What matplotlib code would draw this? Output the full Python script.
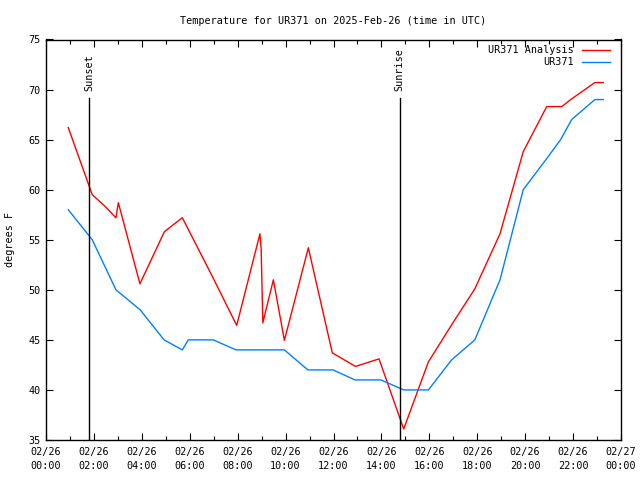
import matplotlib
matplotlib.use("Agg")
import matplotlib.pyplot as plt
from matplotlib.ticker import MultipleLocator

FONT = "DejaVu Sans Mono"
plt.rcParams['font.family'] = [FONT]
FS = 7.3

title = "Temperature for UR371 on 2025-Feb-26 (time in UTC)"
ylabel = "degrees F"

# times in hours since 2025-02-26 00:00 UTC
red_t = [0.93, 1.93, 2.46, 2.92, 3.02, 3.92, 4.94, 5.69, 6.93, 7.96, 8.93, 8.98, 9.05,
         9.49, 9.95, 10.95, 11.95, 12.92, 13.9, 14.93, 15.96, 16.93, 17.9, 18.95, 19.92,
         20.9, 21.53, 21.9, 22.91, 23.26]
red_v = [66.2, 59.5, 58.35, 57.2, 58.7, 50.6, 55.8, 57.2, 51.4, 46.45, 55.6, 54.1, 46.7,
         51.0, 44.95, 54.2, 43.7, 42.35, 43.1, 36.1, 42.8, 46.5, 50.1, 55.6, 63.8,
         68.3, 68.3, 69.0, 70.7, 70.7]

blue_t = [0.93, 1.93, 2.92, 3.93, 4.93, 5.69, 5.94, 6.98, 7.93, 8.93, 9.95, 10.93, 11.98,
          12.9, 13.98, 14.93, 15.96, 16.93, 17.9, 18.95, 19.92, 20.93, 21.48, 21.94, 22.91, 23.26]
blue_v = [58, 55, 50, 48, 45, 44, 45, 45, 44, 44, 44, 42, 42,
          41, 41, 40, 40, 43, 45, 51, 60, 63.2, 65, 67, 69, 69]

sunset_t = 1.81
sunrise_t = 14.77

xtick_pos = [0, 2, 4, 6, 8, 10, 12, 14, 16, 18, 20, 22, 24]
xtick_labels = ["02/26\n00:00", "02/26\n02:00", "02/26\n04:00", "02/26\n06:00",
                "02/26\n08:00", "02/26\n10:00", "02/26\n12:00", "02/26\n14:00",
                "02/26\n16:00", "02/26\n18:00", "02/26\n20:00", "02/26\n22:00",
                "02/27\n00:00"]
yticks = [35, 40, 45, 50, 55, 60, 65, 70, 75]

fig = plt.figure(figsize=(6.4, 4.8), dpi=100)
ax = fig.add_axes([46/640, 1-440/480, (621-46)/640, (440-39.5)/480])

ax.plot(red_t, red_v, color="#ff0000", lw=1.0)
ax.plot(blue_t, blue_v, color="#0080ff", lw=1.0)

for t, lab in [(sunset_t, "Sunset"), (sunrise_t, "Sunrise")]:
    ax.plot([t, t], [35, 69.2], color="black", lw=1.0)
    ax.text(t, 69.9, lab, rotation=90, ha="center", va="bottom", fontsize=FS)

ax.set_xlim(0, 24)
ax.set_ylim(35, 75)
ax.set_xticks(xtick_pos)
ax.set_xticklabels(xtick_labels, fontsize=FS, linespacing=1.55)
ax.xaxis.set_minor_locator(MultipleLocator(1))
ax.set_yticks(yticks)
ax.set_yticklabels([str(v) for v in yticks], fontsize=FS)
ax.tick_params(which="both", direction="in", top=True, right=True, width=0.8)
ax.tick_params(which="major", length=5, pad=4)
ax.tick_params(which="x" if False else "major", axis="x", pad=5)
ax.tick_params(which="minor", length=3)
for s in ax.spines.values():
    s.set_linewidth(1.0)

ax.set_title(title, fontsize=FS, pad=11)
ax.set_ylabel(ylabel, fontsize=FS, va="center")
ax.yaxis.set_label_coords(-36/575, 0.5)

# legend
entries = [("UR371 Analysis", "#ff0000"), ("UR371", "#0080ff")]
for i, (lab, c) in enumerate(entries):
    yy = 1 - (10.5 + 12 * i) / 400.5
    ax.text(1 - 47/575, yy, lab, transform=ax.transAxes, ha="right", va="center", fontsize=FS)
    ax.plot([1 - 39/575, 1 - 11/575], [yy, yy], transform=ax.transAxes, color=c, lw=1.0)

fig.savefig("out.png", dpi=100)
